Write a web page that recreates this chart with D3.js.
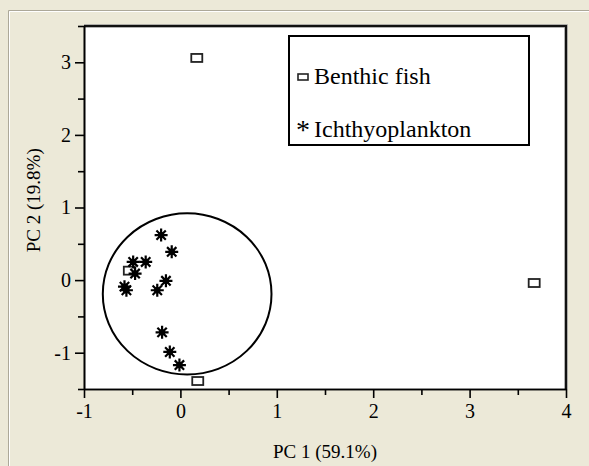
<!DOCTYPE html>
<html>
<head>
    <meta charset="UTF-8">
    <script src="https://d3js.org/d3.v7.min.js"></script>
    <style>
        body { margin: 0; background: #ECE9D8; }
        .tick text { font-family: "Liberation Serif", serif; font-size: 20px; fill: #000; }
        .axis path, .axis line { stroke: #000; stroke-width: 1.6px; }
        .title { font-family: "Liberation Serif", serif; font-size: 19px; fill: #000; }
        .legend-text { font-family: "Liberation Serif", serif; font-size: 24px; fill: #000; }
        .benthic { fill: #fff; stroke: #222; stroke-width: 1.8px; }
        .star { stroke: #000; stroke-width: 2.2px; }
    </style>
</head>
<body>
<svg id="chart" width="589" height="466"></svg>
<script>
    // data
    const benthicX = [0.17, 3.67, 0.18, -0.53];
    const benthicY = [3.06, -0.04, -1.39, 0.13];

    const planktonX = [-0.20, -0.09, -0.49, -0.36, -0.47, -0.58, -0.56, -0.15, -0.24, -0.19, -0.11, -0.01];
    const planktonY = [0.62, 0.39, 0.25, 0.25, 0.09, -0.09, -0.14, -0.01, -0.14, -0.72, -0.99, -1.17];

    const xTicks = [-1, 0, 1, 2, 3, 4];
    const yTicks = [-1, 0, 1, 2, 3];
    const xMinor = [-0.5, 0.5, 1.5, 2.5, 3.5];
    const yMinor = [-1.5, -0.5, 0.5, 1.5, 2.5, 3.5];

    // cluster circle, in data units
    const circleCenter = [0.07, -0.19];
    const circleRadius = [0.875, 1.11];

    const legendLabels = ["Benthic fish", "Ichthyoplankton"];

    const svg = d3.select("svg#chart");
    const margin = {top: 26, right: 23, bottom: 77, left: 84};
    const width = 589, height = 466;

    const x = d3.scaleLinear().domain([-1, 4]).range([margin.left, width - margin.right]);
    const y = d3.scaleLinear().domain([-1.5, 3.5]).range([height - margin.bottom, margin.top]);

    // window frame
    svg.append("rect").attr("width", width).attr("height", height).attr("fill", "#ECE9D8");
    svg.append("path").attr("d", "M8.5,466V10.5H589").attr("fill", "none").attr("stroke", "#ACA899");
    svg.append("path").attr("d", "M9.5,466V11.5H589").attr("fill", "none").attr("stroke", "#fff");

    // plot area
    svg.append("rect")
        .attr("x", x(-1)).attr("y", y(3.5))
        .attr("width", x(4) - x(-1)).attr("height", y(-1.5) - y(3.5))
        .attr("fill", "#fff");
    svg.append("path")
        .attr("d", `M${x(-1)},${y(3.5)}H${x(4)}V${y(-1.5)}`)
        .attr("fill", "none").attr("stroke", "#999").attr("stroke-width", 3.5);
    svg.append("path")
        .attr("d", `M${x(-1)},${y(3.5)}H${x(4)}V${y(-1.5)}`)
        .attr("fill", "none").attr("stroke", "#111").attr("stroke-width", 2);

    // axes
    svg.append("g").attr("class", "axis")
        .attr("transform", `translate(0,${y(-1.5)})`)
        .call(d3.axisBottom(x).tickValues(xMinor).tickSize(6).tickSizeOuter(0).tickFormat(""));
    svg.append("g").attr("class", "axis")
        .attr("transform", `translate(0,${y(-1.5)})`)
        .call(d3.axisBottom(x).tickValues(xTicks).tickSize(9).tickSizeOuter(0).tickPadding(6).tickFormat(d => String(d)));
    svg.append("g").attr("class", "axis")
        .attr("transform", `translate(${x(-1)},0)`)
        .call(d3.axisLeft(y).tickValues(yMinor).tickSize(6).tickSizeOuter(0).tickFormat(""));
    svg.append("g").attr("class", "axis")
        .attr("transform", `translate(${x(-1)},0)`)
        .call(d3.axisLeft(y).tickValues(yTicks).tickSize(9).tickSizeOuter(0).tickPadding(4).tickFormat(d => String(d)));

    svg.append("text").attr("class", "title")
        .attr("x", (x(-1) + x(4)) / 2).attr("y", 458)
        .attr("text-anchor", "middle").text("PC 1 (59.1%)");
    svg.append("text").attr("class", "title")
        .attr("transform", `translate(40,${y(1.1)}) rotate(-90)`)
        .attr("text-anchor", "middle").text("PC 2 (19.8%)");

    // cluster circle
    svg.append("ellipse")
        .attr("cx", x(circleCenter[0])).attr("cy", y(circleCenter[1]))
        .attr("rx", x(circleCenter[0] + circleRadius[0]) - x(circleCenter[0]))
        .attr("ry", y(circleCenter[1]) - y(circleCenter[1] + circleRadius[1]))
        .attr("fill", "none").attr("stroke", "#000").attr("stroke-width", 2);

    // benthic fish squares
    svg.selectAll("rect.benthic")
        .data(d3.range(benthicX.length))
        .enter().append("rect")
        .attr("class", "benthic")
        .attr("x", i => x(benthicX[i]) - 5.5)
        .attr("y", i => y(benthicY[i]) - 4)
        .attr("width", 11).attr("height", 8);

    // ichthyoplankton asterisks
    const r = 6.5;
    const starPath = `M${-r},0H${r}M0,${-r}V${r}M${-r * 0.72},${-r * 0.72}L${r * 0.72},${r * 0.72}M${-r * 0.72},${r * 0.72}L${r * 0.72},${-r * 0.72}`;
    const stars = svg.selectAll("g.star")
        .data(d3.range(planktonX.length))
        .enter().append("g")
        .attr("class", "star")
        .attr("transform", i => `translate(${x(planktonX[i])},${y(planktonY[i])})`);
    stars.append("path").attr("d", starPath);
    stars.append("circle").attr("r", 3.2).attr("fill", "#000").attr("stroke", "none");

    // legend
    const legend = svg.append("g");
    legend.append("rect")
        .attr("x", 289).attr("y", 36).attr("width", 240).attr("height", 109)
        .attr("fill", "#fff").attr("stroke", "#000").attr("stroke-width", 2);
    legend.append("rect")
        .attr("x", 298).attr("y", 74).attr("width", 10).attr("height", 6)
        .attr("fill", "#fff").attr("stroke", "#222").attr("stroke-width", 1.6);
    legend.append("text").attr("class", "legend-text")
        .attr("x", 296).attr("y", 139).style("font-size", "28px").text("*");
    legend.selectAll("text.entry")
        .data(legendLabels)
        .enter().append("text")
        .attr("class", "legend-text entry")
        .attr("x", 314)
        .attr("y", (d, i) => 84 + i * 53)
        .text(d => d);
</script>
</body>
</html>
